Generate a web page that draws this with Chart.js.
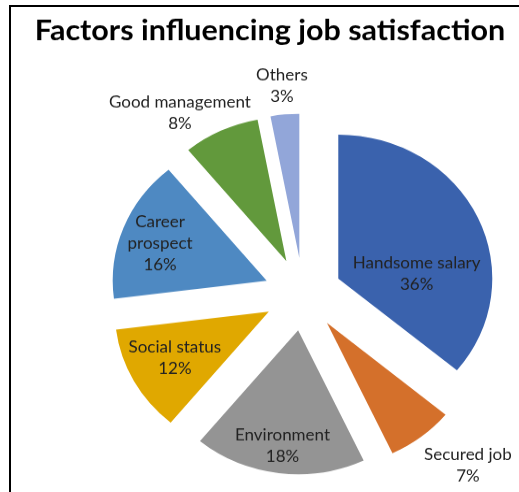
<!DOCTYPE html>
<html>
<head>
<meta charset="utf-8">
<script src="https://cdn.jsdelivr.net/npm/chart.js@4.4.1/dist/chart.umd.min.js"></script>
<style>
  html, body { margin: 0; padding: 0; background: #fff; }
  #wrap { position: relative; width: 519px; height: 492px; overflow: hidden; }
  #frame { position: absolute; left: 9px; top: 5px; right: -10px; bottom: -10px;
           border-top: 2px solid #000; border-left: 2px solid #000; }
  /* the chart was exported slightly flattened, so the canvas is squeezed vertically */
  #jobChart { position: absolute; left: 0; top: 0; transform: scaleY(0.935); transform-origin: 0 0; }
</style>
</head>
<body>
<div id="wrap">
  <div id="frame"></div>
  <canvas id="jobChart" width="519" height="560"></canvas>
</div>
<script>
const chartTitle = 'Factors influencing job satisfaction';
const factors = ['Handsome salary', 'Secured job', 'Environment', 'Social status', 'Career prospect', 'Good management', 'Others'];
const shares = [36, 7, 18, 12, 16, 8, 3];
// how each category name is broken over lines in its label
const labelLines = [['Handsome salary'], ['Secured job'], ['Environment'], ['Social status'], ['Career', 'prospect'], ['Good management'], ['Others']];

const sliceColors = ['#3A62AD', '#D4702B', '#949494', '#E0A800', '#4E89C2', '#62993C', '#92A6D9'];

// every slice is pulled out from the centre by the same distance
const explode = 39;
// label placement: fraction of the radius from the slice tip, and a turn (degrees) off the middle angle
const labelRadius = [0.51, 1.35, 0.81, 0.69, 0.74, 1.24, 1.20];
const labelTurn = [21.7, -4.9, 0, 1, -1, -8.7, 0];

const explodedPie = {
  id: 'explodedPie',
  beforeDatasetDraw(chart, args) {
    const ctx = chart.ctx;
    args.meta.data.forEach(arc => {
      const mid = (arc.startAngle + arc.endAngle) / 2;
      ctx.save();
      ctx.translate(Math.cos(mid) * explode, Math.sin(mid) * explode);
      arc.draw(ctx);
      ctx.restore();
    });
    return false;
  },
  afterDatasetsDraw(chart) {
    const ctx = chart.ctx;
    const arcs = chart.getDatasetMeta(0).data;
    ctx.save();
    ctx.fillStyle = '#222';
    ctx.font = '17px Lato, "Open Sans", sans-serif';
    ctx.textAlign = 'center';
    ctx.textBaseline = 'middle';
    arcs.forEach((arc, i) => {
      const mid = (arc.startAngle + arc.endAngle) / 2;
      const tipX = arc.x + Math.cos(mid) * explode;
      const tipY = arc.y + Math.sin(mid) * explode;
      const ang = mid + labelTurn[i] * Math.PI / 180;
      const dist = labelRadius[i] * arc.outerRadius;
      const cx = tipX + Math.cos(ang) * dist;
      const cy = tipY + Math.sin(ang) * dist;
      const lines = labelLines[i].concat(shares[i] + '%');
      const lh = 23;
      lines.forEach((txt, j) => {
        ctx.fillText(txt, cx, cy - (lines.length - 1) * lh / 2 + j * lh);
      });
    });
    ctx.restore();
  },
  afterDraw(chart) {
    const ctx = chart.ctx;
    ctx.save();
    ctx.fillStyle = '#000';
    ctx.font = 'bold 30.5px Lato, "Open Sans", sans-serif';
    ctx.textAlign = 'center';
    ctx.textBaseline = 'alphabetic';
    ctx.fillText(chartTitle, 270, 43);
    ctx.restore();
  }
};

new Chart(document.getElementById('jobChart'), {
  type: 'pie',
  data: {
    labels: factors,
    datasets: [{
      data: shares,
      backgroundColor: sliceColors,
      borderWidth: 0
    }]
  },
  options: {
    responsive: false,
    animation: false,
    events: [],
    radius: 154,
    layout: { padding: { left: 87, right: 0, top: 70, bottom: 1 } },
    plugins: {
      legend: { display: false },
      title: { display: false },
      tooltip: { enabled: false }
    }
  },
  plugins: [explodedPie]
});
</script>
</body>
</html>
